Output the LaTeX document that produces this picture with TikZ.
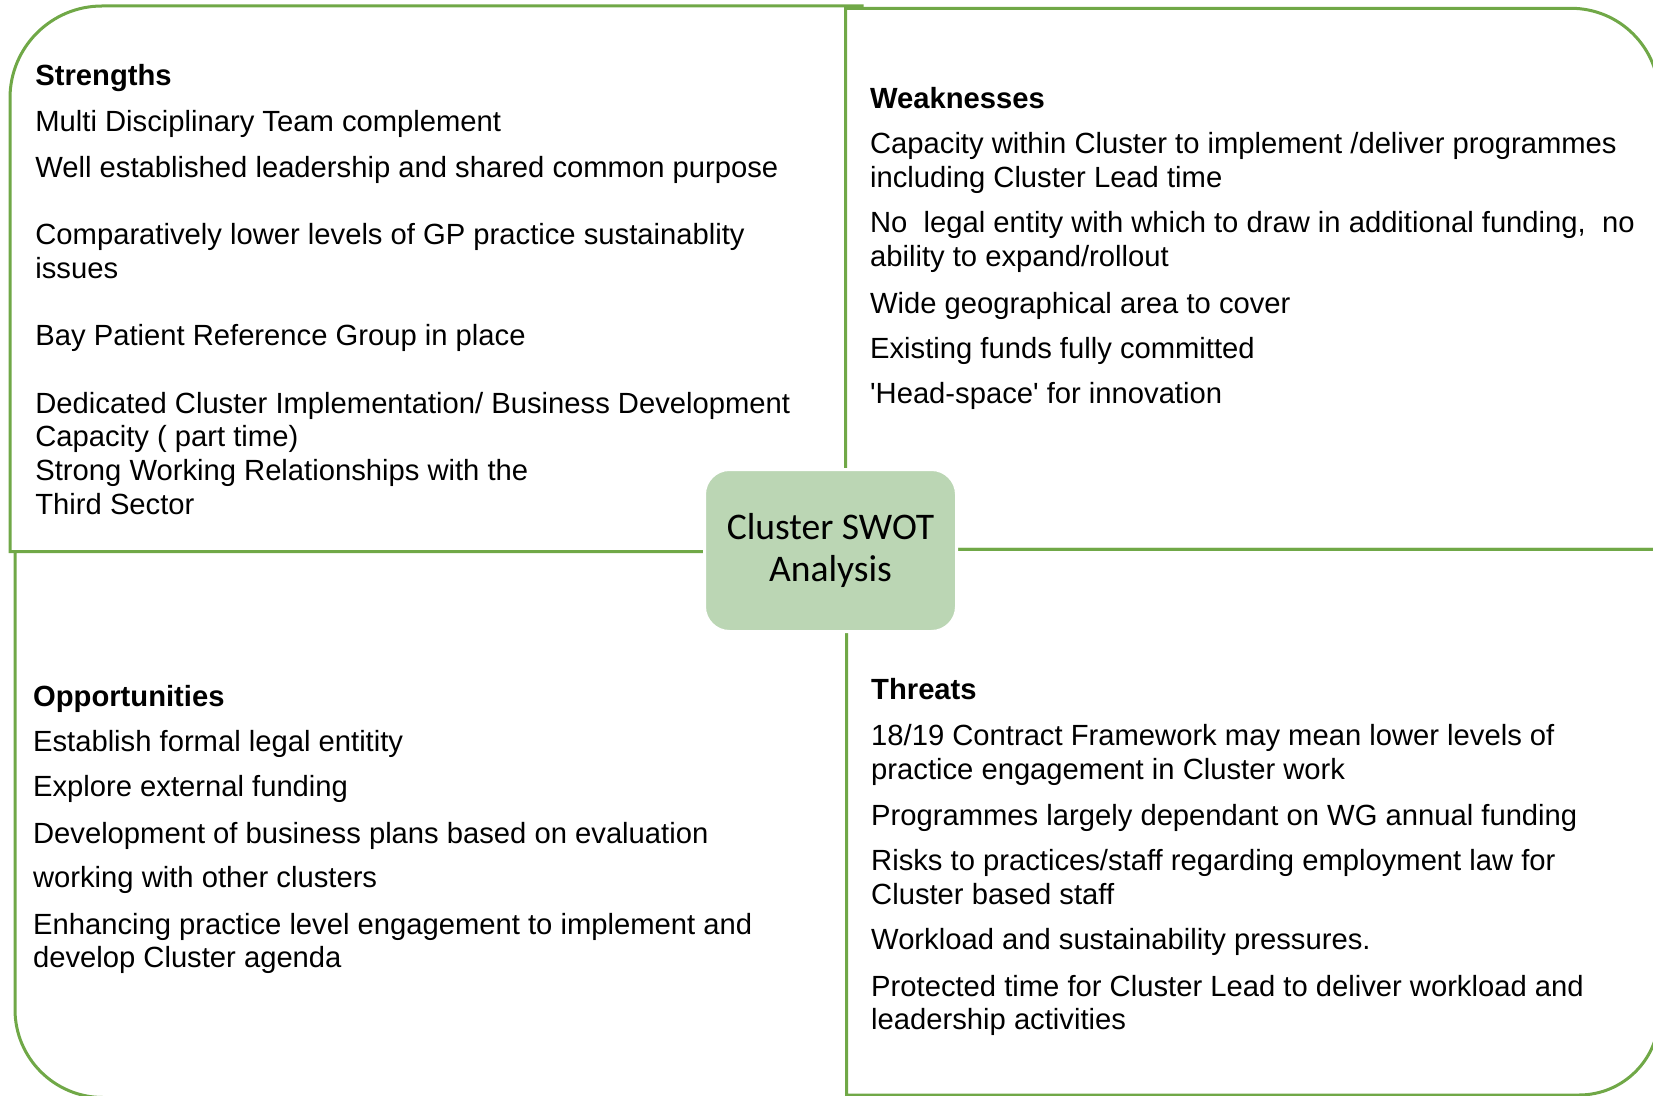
\documentclass[tikz,border=0pt]{standalone}
\usepackage{fontspec}
\setmainfont{Liberation Sans}
\newfontfamily\swotfont{Carlito}
\usepackage{tikz}
\definecolor{quadgreen}{RGB}{112,168,71}
\definecolor{swotfill}{RGB}{187,214,180}

\begin{document}
\begin{tikzpicture}[x = 0.5pt, y = -0.5pt,
    quad/.style = {draw = quadgreen, line width = 1.5pt, fill = white},
    entry/.style = {anchor = base west, inner sep = 0pt, align = left, font = \fontsize{14.6}{16.85}\selectfont},
    heading/.style = {entry, font = \fontsize{14.6}{16.85}\selectfont\bfseries},
    centre/.style = {draw = white, line width = 1.5pt, fill = swotfill, rounded corners = 12.5pt,
        minimum width = 126pt, minimum height = 81pt, inner sep = 0pt, align = center,
        font = \swotfont\fontsize{18.8}{21}\selectfont}]

    \useasboundingbox (0,0) rectangle (1653,1096);
    \clip (0,0) rectangle (1653,1096);

    % the four quadrants, one round corner each
    \draw [quad] (862,551.7) -- (862,6) -- (102,6) .. controls (51.2,6) and (10,47.2) .. (10,98) -- (10,551.7) -- cycle;
    \draw [quad] (845.7,549.3) -- (845.7,8.3) -- (1571,8.3) .. controls (1619.6,8.3) and (1659,47.7) .. (1659,96.3) -- (1659,549.3) -- cycle;
    \draw [quad] (846.7,551.7) -- (15,551.7) -- (15,1009.5) .. controls (15,1058.1) and (54.4,1097.5) .. (103,1097.5) -- (846.7,1097.5) -- cycle;
    \draw [quad] (846.7,549.3) -- (1659,549.3) -- (1659,1015) .. controls (1659,1059.2) and (1623.2,1095) .. (1579,1095) -- (846.7,1095) -- cycle;

    % strengths (y = baseline of the last line)
    \node (strengths) [heading] at (35, 85.5) {Strengths};
    \foreach \y/\txt [count = \i] in {131.7/{Multi Disciplinary Team complement},
        177.1/{Well established leadership and shared common purpose},
        278.2/{Comparatively lower levels of GP practice sustainablity\\issues},
        345.7/{Bay Patient Reference Group in place},
        446.9/{Dedicated Cluster Implementation/ Business Development\\Capacity ( part time)},
        514.4/{Strong Working Relationships with the\\Third Sector}}
    {
        \node (s\i) [entry] at (35, \y) {\txt};
    }

    % weaknesses
    \node (weaknesses) [heading] at (869.7, 108.5) {Weaknesses};
    \foreach \y/\txt [count = \i] in {187.6/{Capacity within Cluster to implement /deliver programmes\\including Cluster Lead time},
        266.6/{No\ \ legal entity with which to draw in additional funding,\ \ no\\ability to expand/rollout},
        313.1/{Wide geographical area to cover},
        358.4/{Existing funds fully committed},
        403.7/{\textquotesingle Head-space\textquotesingle{} for innovation}}
    {
        \node (w\i) [entry] at (869.7, \y) {\txt};
    }

    % opportunities
    \node (opportunities) [heading] at (32.7, 706.3) {Opportunities};
    \foreach \y/\txt [count = \i] in {751.6/{Establish formal legal entitity},
        796.9/{Explore external funding},
        843.3/{Development of business plans based on evaluation},
        887.6/{working with other clusters},
        967.7/{Enhancing practice level engagement to implement and\\develop Cluster agenda}}
    {
        \node (o\i) [entry] at (32.7, \y) {\txt};
    }

    % threats
    \node (threats) [heading] at (870.8, 699.9) {Threats};
    \foreach \y/\txt [count = \i] in {779.0/{18/19 Contract Framework may mean lower levels of\\practice engagement in Cluster work},
        825.4/{Programmes largely dependant on WG annual funding},
        904.4/{Risks to practices/staff regarding employment law for\\Cluster based staff},
        949.8/{Workload and sustainability pressures.},
        1029.9/{Protected time for Cluster Lead to deliver workload and\\leadership activities}}
    {
        \node (t\i) [entry] at (870.8, \y) {\txt};
    }

    \node (swot) [centre] at (830.5, 550.5) {Cluster SWOT\\Analysis};
\end{tikzpicture}
\end{document}
